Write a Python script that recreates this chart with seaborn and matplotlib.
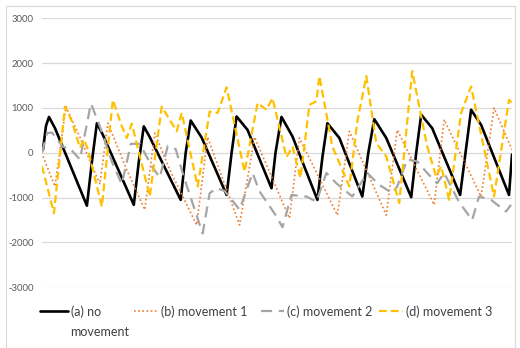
import matplotlib
matplotlib.use("Agg")
import matplotlib.pyplot as plt
import seaborn as sns
from matplotlib.lines import Line2D
from matplotlib.patches import Rectangle

# ---- data (sample index, value) ----
a_t = [1, 4, 7, 13, 45, 50, 55, 61, 92, 97, 102, 108, 139, 144, 149, 160, 185, 190, 195, 206,
       230, 234, 240, 251, 276, 281, 286, 298, 321, 327, 333, 345, 370, 375, 380, 391, 419, 425,
       430, 440, 468, 471]
a_v = [70, 600, 800, 550, -1180, -200, 660, 400, -1160, -200, 590, 350, -1050, 0, 720, 340, -940,
       0, 810, 510, -790, 0, 800, 365, -1050, -100, 660, 330, -975, 0, 750, 330, -990, 0, 850, 550,
       -940, 100, 960, 625, -940, -40]

b_t = [1, 13, 24, 38, 58, 66, 85, 103, 113, 128, 155, 166, 183, 198, 213, 248, 258, 296, 308,
       345, 356, 393, 403, 440, 453, 471]
b_v = [-80, -750, 1030, 350, -700, 660, -380, -1270, 440, -380, -1610, 350, -700, -1610, 350,
       -1460, 330, -1390, 480, -1390, 510, -1160, 740, -975, 1000, 70]

c_t = [0, 5, 10, 21, 28, 38, 49, 58, 70, 80, 89, 98, 110, 118, 126, 134, 142, 161, 168, 175, 183,
       198, 211, 218, 235, 241, 250, 265, 275, 285, 295, 311, 326, 338, 351, 356, 366, 376, 386,
       396, 403, 418, 431, 438, 450, 465, 470]
c_v = [0, 440, 450, 130, 100, -150, 1100, 590, -200, -700, 200, 200, -300, -550, 150, 80, -530,
       -1800, -900, -790, -850, -1270, -450, -860, -1420, -1660, -940, -975, -1090, -450, -680,
       -975, -450, -715, -900, -750, -150, -190, -450, -680, -450, -1100, -1500, -975, -1050,
       -1310, -1160]

d_t = [0, 12, 23, 30, 38, 42, 46, 60, 71, 80, 85, 90, 108, 120, 135, 140, 156, 168, 176, 185, 203,
       216, 225, 231, 245, 251, 259, 268, 275, 278, 291, 308, 316, 325, 335, 345, 358, 371, 386,
       395, 400, 408, 420, 430, 453, 468, 471]
d_v = [-300, -1350, 1030, 700, 110, 300, 80, -1200, 1180, 590, 330, 650, -975, 1030, 480, 890, -750,
       920, 890, 1460, -420, 1110, 960, 1220, -100, 140, -560, 1070, 1150, 1710, 140, -750, 700,
       1710, 215, -80, -1120, 1820, 140, -530, -300, -1050, 890, 1480, -975, 1180, 1110]

labels = ["(a) no", "(b) movement 1", "(c) movement 2", "(d) movement 3"]
label_a_wrap = "movement"
yticks = [-3000, -2000, -1000, 0, 1000, 2000, 3000]

# ---- figure ----
sns.set_theme(style="white")
plt.rcParams["font.family"] = ["Lato", "DejaVu Sans"]

W, H = 520, 348
fig = plt.figure(figsize=(5.2, 3.48), dpi=100)
ax = fig.add_axes([42 / W, 1 - 287.3 / H, 470 / W, (287.3 - 18.3) / H])

styles = [
    dict(color="#000000", linewidth=1.9, linestyle="-"),
    dict(color="#ED7D31", linewidth=1.2, linestyle=(0, (1, 1.5))),
    dict(color="#A5A5A5", linewidth=1.6, linestyle=(0, (5, 3))),
    dict(color="#FFC000", linewidth=1.6, linestyle=(0, (3.5, 1.8))),
]
series = [(a_t, a_v), (b_t, b_v), (c_t, c_v), (d_t, d_v)]
for (t, v), st in zip(series, styles):
    sns.lineplot(x=t, y=v, ax=ax, estimator=None, sort=False, **st)

ax.set_xlim(0, 471)
ax.set_ylim(-3000, 3000)
ax.set_yticks(yticks)
ax.set_yticklabels([str(y) for y in yticks], fontsize=6.8, color="#595959")
ax.set_xticks([])
ax.tick_params(axis="y", length=0, pad=6)
ax.grid(axis="y", color="#D9D9D9", linewidth=0.9)
ax.set_axisbelow(True)
for s in ax.spines.values():
    s.set_visible(False)
ax.set_xlabel("")
ax.set_ylabel("")

# legend entries placed individually (Excel-style spacing)
leg_x = [40, 134, 261, 379]
leg_len = [2.25, 1.9, 1.85, 1.9]
for st, lab, lx, hl in zip(styles, labels, leg_x, leg_len):
    fig.legend([Line2D([], [], **st)], [lab], loc="upper left",
               bbox_to_anchor=(lx / W, 1 - 305 / H), frameon=False, fontsize=9,
               handlelength=hl, handletextpad=0.25, borderpad=0, borderaxespad=0,
               labelcolor="#404040")
fig.text(70 / W, 1 - 332 / H, label_a_wrap, fontsize=9, color="#404040", va="center", ha="left")

fig.patches.append(Rectangle((6 / W, -0.01), 509 / W, 1 - 6 / H + 0.01,
                             transform=fig.transFigure, fill=False,
                             edgecolor="#D9D9D9", linewidth=0.8))

fig.savefig("out.png", dpi=100)
